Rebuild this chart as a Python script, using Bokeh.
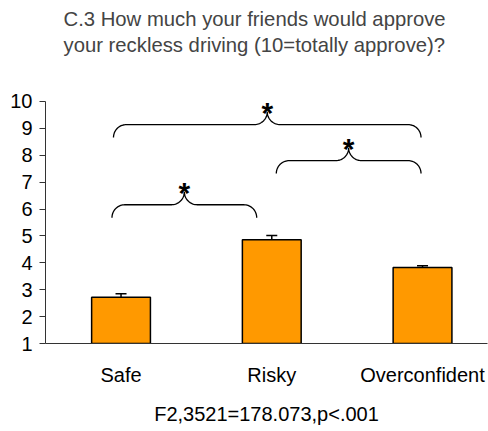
import numpy as np
from bokeh.plotting import figure
from bokeh.models import Range1d, FixedTicker, Whisker, ColumnDataSource, TeeHead
from bokeh.core.properties import value
from bokeh.embed import file_html
from bokeh.resources import INLINE

# ---- data ----
categories = ["Safe", "Risky", "Overconfident"]
means = [2.72, 4.86, 3.83]
errors = [0.13, 0.16, 0.06]
y_ticks = [1, 2, 3, 4, 5, 6, 7, 8, 9, 10]
title_lines = ["C.3 How much your friends would approve",
               "your reckless driving (10=totally approve)?"]
x_title = "F2,3521=178.073,p<.001"
# significance braces: start / end (category index units), base level
brace_start = [-0.06, 1.03, -0.05]
brace_end = [0.90, 1.99, 1.99]
brace_base = [5.68, 7.32, 8.66]
brace_mark = ["*", "*", "*"]

FONT = "Liberation Sans"
positions = list(range(len(categories)))

p = figure(width=488, height=431, output_backend="svg", toolbar_location=None,
           x_range=Range1d(-0.501, 2.431), y_range=Range1d(1, 11.45),
           min_border_left=45, min_border_right=1, min_border_top=62, min_border_bottom=88)
p.outline_line_color = None
p.xgrid.visible = False
p.ygrid.visible = False
p.background_fill_color = "white"

p.title.text = "\n".join(title_lines)
p.title.align = "left"
p.title.offset = 18
p.title.text_font = FONT
p.title.text_font_size = "20.3px"
p.title.text_font_style = "normal"
p.title.text_line_height = 1.2
p.title.standoff = 12

# bars
src = ColumnDataSource(dict(x=positions, top=means,
                            upper=[m + e for m, e in zip(means, errors)]))
p.vbar(x="x", top="top", bottom=1, width=0.39, source=src,
       fill_color="#FF9900", line_color="black", line_width=1.5)
w = Whisker(base="x", lower="top", upper="upper", source=src,
            line_color="black", line_width=1.5, lower_head=None,
            upper_head=TeeHead(size=11, line_color="black", line_width=1.5))
p.add_layout(w)

# braces
rx, ry = 0.085, 0.48
t = np.linspace(0, np.pi / 2, 20)
tip_x, tip_y = [], []
for x0, x1, yb in zip(brace_start, brace_end, brace_base):
    xm = (x0 + x1) / 2
    yf = yb + ry
    xs = list(x0 + rx - rx * np.cos(t))
    ys = list(yb + ry * np.sin(t))
    xs += list(xm - rx + rx * np.sin(t))
    ys += list(yf + ry - ry * np.cos(t))
    xs += list(xm + rx - rx * np.sin(t[::-1]))
    ys += list(yf + ry - ry * np.cos(t[::-1]))
    xs += list(x1 - rx + rx * np.cos(t[::-1]))
    ys += list(yb + ry * np.sin(t[::-1]))
    p.line(xs, ys, line_color="black", line_width=1.3)
    tip_x.append(xm)
    tip_y.append(yf + ry)

p.text(x=tip_x, y=tip_y, text=brace_mark, text_font=value(FONT), text_font_size="30px",
       text_font_style="bold", text_align="center", text_baseline="alphabetic",
       y_offset=1, text_color="black")

# axes
p.yaxis.ticker = FixedTicker(ticks=y_ticks)
p.yaxis.bounds = (1, 10)
p.yaxis.minor_tick_line_color = None
p.yaxis.major_tick_out = 6
p.yaxis.major_tick_in = 0
p.yaxis.major_label_standoff = 7
p.yaxis.axis_line_color = "#333333"
p.yaxis.major_tick_line_color = "#333333"
p.yaxis.major_label_text_font = FONT
p.yaxis.major_label_text_font_size = "20px"
p.yaxis.major_label_text_color = "black"

p.xaxis.ticker = FixedTicker(ticks=positions)
p.xaxis.major_label_overrides = {i: c for i, c in zip(positions, categories)}
p.xaxis.minor_tick_line_color = None
p.xaxis.major_tick_line_color = None
p.xaxis.major_tick_out = 0
p.xaxis.major_tick_in = 0
p.xaxis.major_label_standoff = 20
p.xaxis.axis_line_color = "#333333"
p.xaxis.major_label_text_font = FONT
p.xaxis.major_label_text_font_size = "20px"
p.xaxis.major_label_text_color = "black"
p.xaxis.axis_label = x_title
p.xaxis.axis_label_standoff = 14
p.xaxis.axis_label_text_font = FONT
p.xaxis.axis_label_text_font_size = "20px"
p.xaxis.axis_label_text_font_style = "normal"
p.xaxis.axis_label_text_color = "black"

open("out.html", "w").write(file_html(p, INLINE))
